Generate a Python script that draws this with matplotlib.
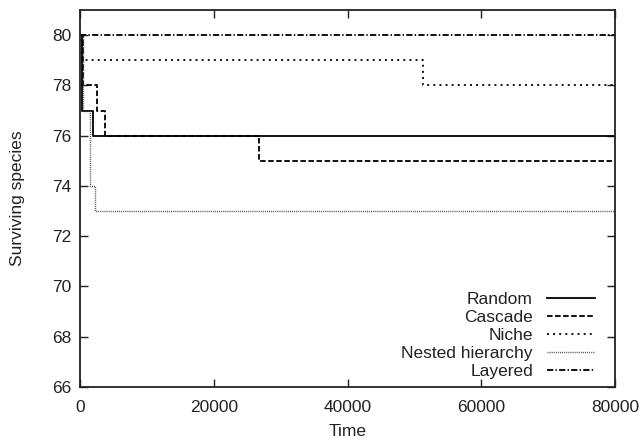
import matplotlib
matplotlib.use("Agg")
import matplotlib.pyplot as plt

plt.rcParams['font.family'] = ['Liberation Sans', 'DejaVu Sans']
plt.rcParams['lines.scale_dashes'] = False

# Species-loss step series: times at which a count changes, and the new count
random_t = [0, 350, 1990]
random_v = [80, 77, 76]
cascade_t = [0, 400, 2600, 3750, 26700]
cascade_v = [80, 78, 77, 76, 75]
niche_t = [0, 350, 51300]
niche_v = [80, 79, 78]
nested_t = [0, 400, 1450, 2300]
nested_v = [80, 77, 74, 73]
layered_t = [0]
layered_v = [80]

labels = ["Random", "Cascade", "Niche", "Nested hierarchy", "Layered"]
t_end = 80000
xticks = [0, 20000, 40000, 60000, 80000]
yticks = [66, 68, 70, 72, 74, 76, 78, 80]

fig = plt.figure(figsize=(6.41, 4.41), dpi=100)
ax = fig.add_axes([80 / 641, 1 - 387 / 441, 535 / 641, 377 / 441])

def extend(t, v):
    return list(t) + [t_end], list(v) + [v[-1]]

styles = [
    dict(color="black", lw=1.3, linestyle="-"),
    dict(color="black", lw=1.3, dashes=(4.0, 1.8)),
    dict(color="black", lw=1.3, dashes=(1.4, 3.0)),
    dict(color="#444444", lw=1.0, dashes=(0.7, 0.8)),
    dict(color="black", lw=1.3, dashes=(4.5, 1.6, 1.0, 1.6)),
]
series = [(random_t, random_v), (cascade_t, cascade_v), (niche_t, niche_v),
          (nested_t, nested_v), (layered_t, layered_v)]

for (t, v), lab, st in zip(series, labels, styles):
    tt, vv = extend(t, v)
    ax.step(tt, vv, where="post", label=lab, **st)

ax.set_xlim(0, t_end)
ax.set_ylim(66, 81)
ax.set_xticks(xticks)
ax.set_yticks(yticks)
ax.tick_params(direction="in", length=6, width=1.0, top=True, right=True,
               labelsize=12.5, colors="#222222")
ax.tick_params(axis="x", pad=9)
ax.tick_params(axis="y", pad=6)
for sp in ax.spines.values():
    sp.set_linewidth(1.3)
    sp.set_color("#222222")

ax.set_xlabel("Time", fontsize=12.5, labelpad=7, color="#222222")
ax.set_ylabel("Surviving species", fontsize=12.5, labelpad=20, color="#222222")

leg = ax.legend(loc="lower right", frameon=False, markerfirst=False,
                fontsize=12.5, handlelength=2.8, handletextpad=0.8,
                labelspacing=0.17, borderaxespad=0.05,
                bbox_to_anchor=(0.978, 0.0))
for txt in leg.get_texts():
    txt.set_color("#222222")

fig.savefig("out.png", dpi=100)
